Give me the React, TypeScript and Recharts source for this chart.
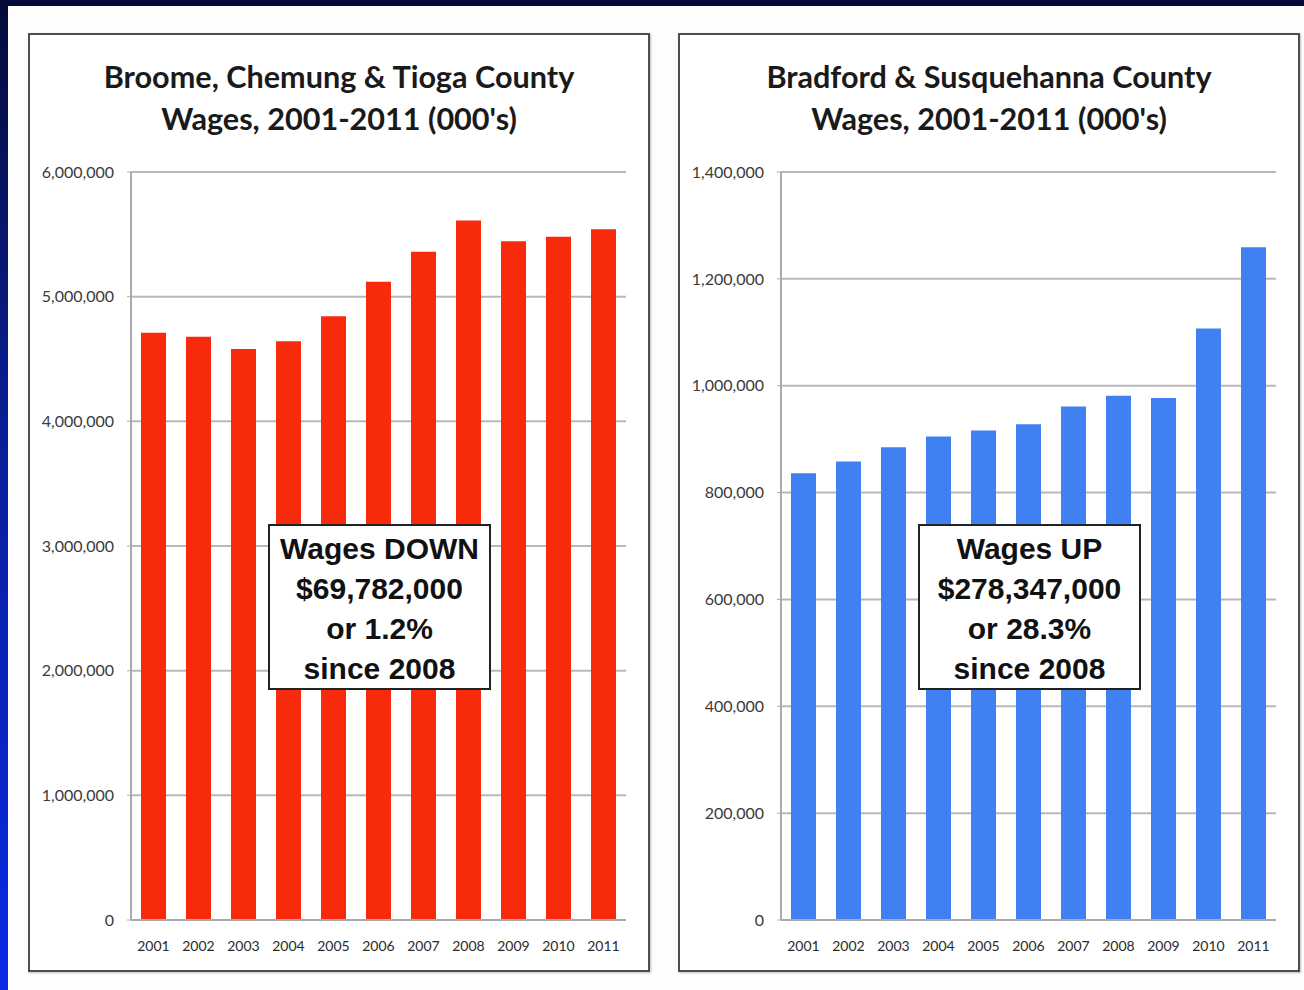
import { Bar, BarChart, CartesianGrid, XAxis, YAxis } from "recharts";

const years = ["2001", "2002", "2003", "2004", "2005", "2006", "2007", "2008", "2009", "2010", "2011"];

// wages in thousands
const southernTierWages = [4711000, 4679000, 4580000, 4642000, 4842000, 5120000, 5361000, 5610000, 5444000, 5481000, 5540218];
const northernPaWages = [836000, 858000, 885000, 905000, 916000, 928000, 961000, 981000, 977000, 1107000, 1259347];

const leftTicks = [0, 1000000, 2000000, 3000000, 4000000, 5000000, 6000000];
const rightTicks = [0, 200000, 400000, 600000, 800000, 1000000, 1200000, 1400000];

const leftTitle = ["Broome, Chemung & Tioga County", "Wages, 2001-2011 (000's)"];
const rightTitle = ["Bradford & Susquehanna County", "Wages, 2001-2011 (000's)"];
const leftNote = ["Wages DOWN", "$69,782,000", "or 1.2%", "since 2008"];
const rightNote = ["Wages UP", "$278,347,000", "or 28.3%", "since 2008"];

const font = "Lato, 'Open Sans', sans-serif";
const fmt = (v: number) => v.toLocaleString("en-US");

type PanelProps = {
  left: number;
  title: string[];
  note: string[];
  values: number[];
  ticks: number[];
  color: string;
};

function Panel({ left, title, note, values, ticks, color }: PanelProps) {
  const data = years.map((year, i) => ({ year, value: values[i] }));
  return (
    <>
      <div
        style={{
          position: "absolute",
          left,
          top: 33,
          width: 618,
          height: 935,
          border: "2px solid #4d4d4d",
          background: "#fff",
          boxShadow: "1px 1px 2px rgba(0,0,0,0.25)",
        }}
      />
      <div
        style={{
          position: "absolute",
          left,
          top: 56,
          width: 622,
          textAlign: "center",
          fontFamily: font,
          fontWeight: 700,
          fontSize: 30.6,
          lineHeight: "42px",
          color: "#1a1a1a",
        }}
      >
        {title.map((t) => (
          <div key={t}>{t}</div>
        ))}
      </div>
      <div style={{ position: "absolute", left: left + 2, top: 150 }}>
        <BarChart width={615} height={810} data={data} margin={{ top: 22, right: 19, left: 0, bottom: 0 }}>
          <CartesianGrid vertical={false} stroke="#b8b8b8" strokeWidth={2} />
          <XAxis
            dataKey="year"
            height={40}
            tickLine={false}
            tickMargin={15}
            axisLine={{ stroke: "#aaa", strokeWidth: 2 }}
            tick={{ fontSize: 14, fill: "#2a2a2a", fontFamily: font }}
            interval={0}
          />
          <YAxis
            width={101}
            domain={[0, ticks[ticks.length - 1]]}
            ticks={ticks}
            tickFormatter={fmt}
            tickSize={4}
            tickMargin={13}
            tickLine={{ stroke: "#aaa" }}
            axisLine={{ stroke: "#aaa", strokeWidth: 2 }}
            tick={{ fontSize: 16, fill: "#3a3a3a", fontFamily: font }}
          />
          <Bar dataKey="value" fill={color} barSize={25} isAnimationActive={false} />
        </BarChart>
      </div>
      <div
        style={{
          position: "absolute",
          left: left + 240,
          top: 524,
          width: 223,
          height: 166,
          border: "2px solid #222",
          background: "#fff",
          textAlign: "center",
          fontFamily: "'Liberation Sans', Arial, sans-serif",
          fontWeight: 700,
          fontSize: 30,
          lineHeight: "40px",
          paddingTop: 3,
          boxSizing: "border-box",
          color: "#111",
        }}
      >
        {note.map((t) => (
          <div key={t}>{t}</div>
        ))}
      </div>
    </>
  );
}

export default function App() {
  return (
    <div
      style={{
        position: "relative",
        width: 1304,
        height: 990,
        background: "#fdfdfd",
        overflow: "hidden",
      }}
    >
      <style>{`body{margin:0}`}</style>
      <div style={{ position: "absolute", left: 0, top: 0, width: 1304, height: 6, background: "#040b3a" }} />
      <div
        style={{
          position: "absolute",
          left: 0,
          top: 0,
          width: 8,
          height: 990,
          background: "linear-gradient(#040b3a, #0a1f9a 45%, #0a2ae6)",
        }}
      />
      <Panel left={28} title={leftTitle} note={leftNote} values={southernTierWages} ticks={leftTicks} color="#f82a0c" />
      <Panel left={678} title={rightTitle} note={rightNote} values={northernPaWages} ticks={rightTicks} color="#3f81f0" />
    </div>
  );
}
